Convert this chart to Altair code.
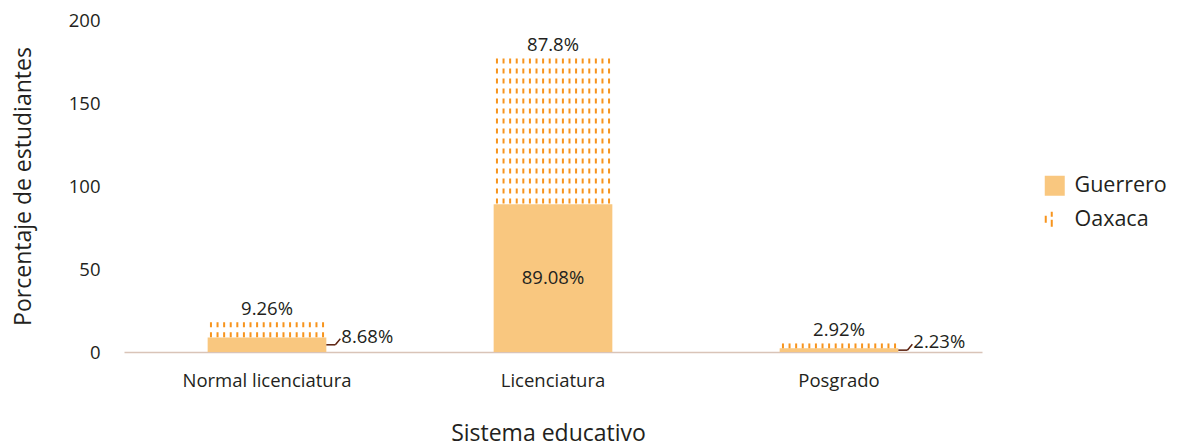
import altair as alt
import pandas as pd

categories = ["Normal licenciatura", "Licenciatura", "Posgrado"]
guerrero = [8.68, 89.08, 2.23]
oaxaca = [9.26, 87.8, 2.92]
series = ["Guerrero", "Oaxaca"]
y_ticks = [0, 50, 100, 150, 200]

GUER = "#F9C77F"
OAX = "#F7941D"
TXT = "#231F20"
LEADER = "#5A1F0C"
FONT = "Open Sans"
N_COLS = 18
LBL = 18.5
TTL = 23

df = pd.DataFrame({"cat": categories, "Guerrero": guerrero, "Oaxaca": oaxaca})
pat = df.merge(pd.DataFrame({"col": list(range(N_COLS))}), how="cross")
leg = pd.DataFrame({"serie": series})

xscale = alt.Scale(domain=categories, paddingInner=0.585, paddingOuter=0.2925)
xaxis = alt.Axis(title="Sistema educativo", labelAngle=0, ticks=False, domainColor="#D9C4B8",
                 domainWidth=1.5, labelPadding=19, labelFontSize=LBL, labelColor=TXT,
                 titleFontSize=TTL, titleFontWeight="normal", titleColor=TXT,
                 titleX=424, titleY=81, titleBaseline="middle", titleAlign="center")
yscale = alt.Scale(domain=[0, 200], nice=False)
YT = "Porcentaje de estudiantes"
yaxis = alt.Axis(title=YT, values=y_ticks, ticks=False, domain=False, grid=False,
                 labelPadding=24, labelFontSize=LBL, labelColor=TXT,
                 titleFontSize=TTL, titleFontWeight="normal", titleColor=TXT,
                 titleX=-101, titleY=166, titleBaseline="middle", titleAlign="center")


def X(**kw):
    return alt.X("cat:N", sort=categories, scale=xscale, axis=xaxis, **kw)


def Y(field):
    return alt.Y(field, scale=yscale, axis=yaxis, title=YT)


base = alt.Chart(df).transform_calculate(
    total="datum.Guerrero + datum.Oaxaca",
    mid="datum.Guerrero / 2",
    glab="datum.Guerrero + '%'",
    olab="datum.Oaxaca + '%'",
)

bars = base.mark_bar(color=GUER).encode(x=X(), y=Y("Guerrero:Q"))

pattern = alt.Chart(pat).transform_calculate(
    total="datum.Guerrero + datum.Oaxaca"
).mark_rule(color=OAX, strokeWidth=2, strokeDash=[5, 5]).encode(
    x=X(),
    xOffset=alt.XOffset("col:O", scale=alt.Scale(paddingInner=0, paddingOuter=0)),
    y=Y("total:Q"),
    y2="Guerrero:Q",
)

oax_lab = base.mark_text(font=FONT, fontSize=LBL, color=TXT, baseline="middle", dy=-13).encode(
    x=X(), y=Y("total:Q"), text="olab:N"
)

g_in = base.transform_filter("datum.Guerrero >= 20").mark_text(
    font=FONT, fontSize=LBL, color=TXT, baseline="middle"
).encode(x=X(), y=Y("mid:Q"), text="glab:N")

small = base.transform_filter("datum.Guerrero < 20")

lead_h = small.mark_rule(color=LEADER, strokeWidth=1.5, x2Offset=9).encode(
    x=X(bandPosition=1), x2=alt.X2("cat", bandPosition=1), y=Y("mid:Q"), y2="mid:Q"
)
lead_d = small.mark_rule(color=LEADER, strokeWidth=1.5, xOffset=9, x2Offset=14, y2Offset=-6).encode(
    x=X(bandPosition=1), x2=alt.X2("cat", bandPosition=1), y=Y("mid:Q"), y2="mid:Q"
)
g_out = small.mark_text(font=FONT, fontSize=LBL, color=TXT, align="left", baseline="middle",
                        dx=15, dy=-8).encode(x=X(bandPosition=1), y=Y("mid:Q"), text="glab:N")

oax_symbol = ("M-1,-0.4 L-0.8,-0.4 L-0.8,0.3 L-1,0.3 Z "
              "M-0.4,-0.8 L-0.2,-0.8 L-0.2,-0.3 L-0.4,-0.3 Z "
              "M-0.4,0 L-0.2,0 L-0.2,0.7 L-0.4,0.7 Z")

legend_layer = alt.Chart(leg).transform_filter("false").mark_point(filled=True, opacity=1).encode(
    color=alt.Color("serie:N", scale=alt.Scale(domain=series, range=[GUER, OAX]),
                    legend=alt.Legend(title=None, orient="none", legendX=920, legendY=155,
                                      symbolSize=400, symbolOpacity=1, labelFont=FONT,
                                      labelFontSize=21.5, labelColor=TXT, labelOffset=9,
                                      rowPadding=11, symbolStrokeWidth=0)),
    shape=alt.Shape("serie:N", scale=alt.Scale(domain=series, range=["square", oax_symbol])),
)

chart = alt.layer(bars, pattern, oax_lab, g_in, lead_h, lead_d, g_out, legend_layer).properties(
    width=858, height=332,
    autosize=alt.AutoSizeParams(type="none"),
    padding={"left": 116, "top": 12, "right": 187, "bottom": 100},
).configure_view(stroke=None).configure_axis(labelFont=FONT, titleFont=FONT)

chart.save("out.html", embed_options={"renderer": "svg", "actions": False})
